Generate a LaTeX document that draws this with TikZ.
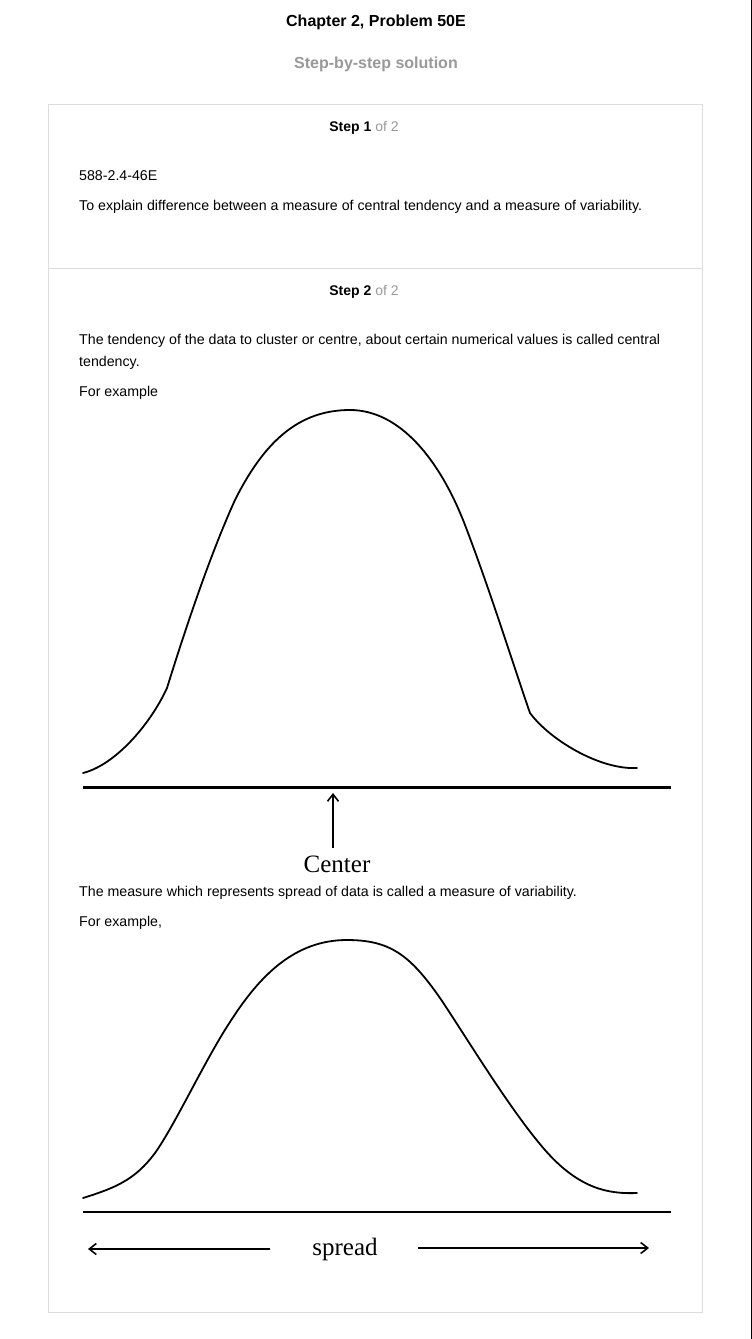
\documentclass[tikz,border=0pt]{standalone}
\usepackage{fontspec}
\setmainfont{Liberation Sans}
\newfontfamily\figfont{Liberation Serif}
\usetikzlibrary{arrows.meta, positioning}

\definecolor{boxgray}{HTML}{DDDDDD}
\definecolor{softgray}{HTML}{999999}

\begin{document}
\begin{tikzpicture}[x=1pt, y=-1pt, every node/.style={inner sep=0pt},
  body/.style={anchor=base west, font=\fontsize{14.2}{16}\selectfont},
  steplabel/.style={anchor=base, font=\fontsize{14}{16}\selectfont},
  curve/.style={line width=1.8pt, line cap=round},
  base/.style={line width=2.2pt},
  pointer/.style={line width=1.8pt, -{Straight Barb[length=7pt, width=11pt, line width=1.6pt]}},
  figlabel/.style={anchor=base, font=\figfont\fontsize{25}{27}\selectfont}]
  \useasboundingbox (0,0) rectangle (752,1339);
  \fill[white] (0,0) rectangle (752,1339);
  \draw[black, line width=1pt] (751.5,0) -- (751.5,1339);
  % Header
  \node[anchor=base, font=\bfseries\fontsize{16}{18}\selectfont] (title) at (376,26.5) {Chapter 2, Problem 50E};
  \node[anchor=base, text=softgray, font=\bfseries\fontsize{16}{18}\selectfont] (subtitle) at (376,68.5) {Step-by-step solution};
  % Step boxes
  \draw[boxgray, line width=0.8pt] (48.5,104.5) rectangle (702.5,1312.5);
  \draw[boxgray, line width=0.8pt] (48.5,268.5) -- (702.5,268.5);
  % Step 1
  \node[steplabel] (step1) at (364,131) {\textbf{Step 1} \textcolor{softgray}{of 2}};
  \node[body] (code) at (79,180) {588-2.4-46E};
  \node[body] (aim) at (79,210) {To explain difference between a measure of central tendency and a measure of variability.};
  % Step 2
  \node[steplabel] (step2) at (364,295) {\textbf{Step 2} \textcolor{softgray}{of 2}};
  \node[body] (def1) at (79,344) {The tendency of the data to cluster or centre, about certain numerical values is called central};
  \node[body] (def1b) at (79,366) {tendency.};
  \node[body] (ex1) at (79,396) {For example};
  % Central tendency curve
  \draw[curve] (83,773) .. controls (115,765) and (150,725) .. (167,688)
    .. controls (185,630) and (210,555) .. (235,500)
    .. controls (265,440) and (300,410) .. (350,410)
    .. controls (400,410) and (440,460) .. (465,525)
    .. controls (490,590) and (515,670) .. (530,713)
    .. controls (550,740) and (600,770) .. (637,768);
  \draw[base] (83,787.5) -- (671,787.5);
  \node[figlabel] (center) at (337,872) {Center};
  \coordinate (ctail) at (333,848);
  \coordinate (ctip) at (333,793);
  \draw[pointer] (ctail) -- (ctip);
  % Variability
  \node[body] (def2) at (79,896) {The measure which represents spread of data is called a measure of variability.};
  \node[body] (ex2) at (79,926) {For example,};
  % Spread curve
  \draw[curve] (83,1198) .. controls (115,1188) and (135,1180) .. (155,1153)
    .. controls (175,1125) and (205,1060) .. (230,1022)
    .. controls (260,975) and (295,940) .. (347,940)
    .. controls (390,940) and (410,955) .. (440,998)
    .. controls (465,1035) and (510,1110) .. (545,1150)
    .. controls (580,1190) and (610,1194) .. (637,1193);
  \draw[base] (83,1212) -- (671,1212);
  \node[figlabel] (spread) at (345,1255) {spread};
  \coordinate (sltail) at (270,1249);
  \coordinate (sltip) at (88,1249);
  \coordinate (srtail) at (418,1248);
  \coordinate (srtip) at (649,1248);
  \draw[pointer] (sltail) -- (sltip);
  \draw[pointer] (srtail) -- (srtip);
\end{tikzpicture}
\end{document}
